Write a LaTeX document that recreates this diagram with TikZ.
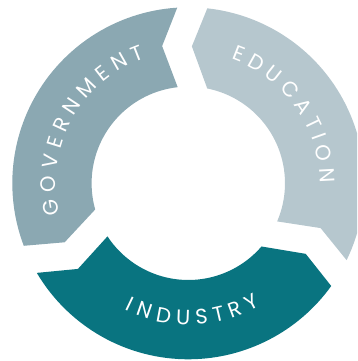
\documentclass[tikz,border=0pt]{standalone}
\usepackage{fontspec}
\newfontfamily\ringfont{Poppins}
\usepackage{xcolor}
\definecolor{Color1}{RGB}{139,168,178}
\definecolor{Color2}{RGB}{182,199,206}
\definecolor{Color3}{RGB}{9,116,128}
\usetikzlibrary{decorations.text}
\tikzstyle{ringtext} = [decorate,
    decoration={text along path, text align={fit to path}, text color=white}]

\begin{document}
\begin{tikzpicture}[x=1pt, y=1pt]
  \useasboundingbox (-188.3,-177.7) rectangle (168.7,183.3);
  \clip (-188.3,-177.7) rectangle (168.7,183.3);
  %
  \fill [Color1] (93.6:176) arc[start angle=93.6, end angle=200.8, radius=176]
    -- (205.5:137) -- (195.7:96.7) arc[start angle=195.7, end angle=96.3, radius=96.7]
    -- (100.8:139.7) -- cycle;
  \fill [Color3] (210.6:176) arc[start angle=210.6, end angle=324.3, radius=176]
    -- (329:137) -- (319.2:96.7) arc[start angle=319.2, end angle=213.3, radius=96.7]
    -- (217.8:139.7) -- cycle;
  \fill [Color2] (334.1:176) arc[start angle=334.1, end angle=443.8, radius=176]
    -- (448.5:137) -- (438.7:96.7) arc[start angle=438.7, end angle=336.8, radius=96.7]
    -- (341.3:139.7) -- cycle;
  %
  \path [ringtext, decoration={text={|\ringfont\fontsize{21}{21}\selectfont|GOVERNMENT}}]
    (193.5:132.5) arc[start angle=193.5, end angle=109, radius=132.5];
  \path [ringtext, decoration={text={|\ringfont\fontsize{21}{21}\selectfont|EDUCATION}}]
    (71:131.5) arc[start angle=71, end angle=0, radius=131.5];
  \path [ringtext, decoration={text={|\ringfont\fontsize{21}{21}\selectfont|INDUSTRY}}]
    (243.3:141.5) arc[start angle=243.3, end angle=300.5, radius=141.5];
\end{tikzpicture}
\end{document}
